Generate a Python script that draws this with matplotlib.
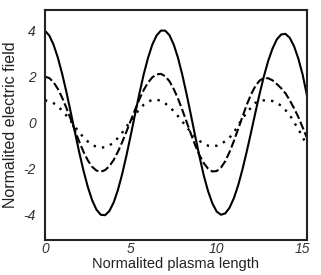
import matplotlib
matplotlib.use("Agg")
import matplotlib.pyplot as plt

# -------------------------------
# Data
# -------------------------------
x = [0.0, 0.25, 0.5, 0.75, 1.0, 1.25, 1.5, 1.75, 2.0, 2.25, 2.5, 2.75, 3.0, 3.25,
     3.5, 3.75, 4.0, 4.25, 4.5, 4.75, 5.0, 5.25, 5.5, 5.75, 6.0, 6.25, 6.5, 6.75,
     7.0, 7.25, 7.5, 7.75, 8.0, 8.25, 8.5, 8.75, 9.0, 9.25, 9.5, 9.75, 10.0, 10.25,
     10.5, 10.75, 11.0, 11.25, 11.5, 11.75, 12.0, 12.25, 12.5, 12.75, 13.0, 13.25,
     13.5, 13.75, 14.0, 14.25, 14.5, 14.75, 15.0, 15.25]

solid = [4.00, 3.79, 3.39, 2.83, 2.13, 1.33, 0.46, -0.43, -1.30, -2.10, -2.80, -3.37, -3.78, -4.00,
         -4.02, -3.84, -3.47, -2.92, -2.22, -1.41, -0.53, 0.38, 1.27, 2.10, 2.81, 3.39, 3.79, 4.00,
         4.00, 3.80, 3.39, 2.81, 2.07, 1.23, 0.33, -0.59, -1.48, -2.30, -2.98, -3.51, -3.86, -4.00,
         -3.94, -3.69, -3.28, -2.72, -2.03, -1.25, -0.42, 0.43, 1.26, 2.02, 2.69, 3.22,
         3.62, 3.83, 3.86, 3.69, 3.33, 2.79, 2.10, 1.20]

dashed = [2.00, 1.94, 1.76, 1.47, 1.09, 0.64, 0.16, -0.35, -0.83, -1.27, -1.64, -1.92, -2.08, -2.13,
          -2.06, -1.89, -1.62, -1.26, -0.84, -0.38, 0.10, 0.57, 1.02, 1.42, 1.74, 1.97, 2.10, 2.12,
          2.02, 1.80, 1.46, 1.04, 0.55, 0.03, -0.49, -0.98, -1.42, -1.76, -2.00, -2.12, -2.10, -1.95,
          -1.67, -1.27, -0.80, -0.27, 0.26, 0.78, 1.23, 1.59, 1.83, 1.94, 1.93, 1.84,
          1.68, 1.50, 1.28, 0.98, 0.63, 0.25, -0.20, -0.65]

dotted = [0.97, 0.94, 0.85, 0.71, 0.53, 0.31, 0.07, -0.18, -0.42, -0.64, -0.82, -0.96, -1.05, -1.08,
          -1.07, -0.99, -0.86, -0.66, -0.43, -0.17, 0.09, 0.35, 0.58, 0.78, 0.91, 0.99, 1.00, 0.95,
          0.84, 0.69, 0.50, 0.28, 0.05, -0.19, -0.42, -0.62, -0.79, -0.92, -1.00, -1.02, -1.00, -0.93,
          -0.80, -0.65, -0.41, -0.12, 0.18, 0.43, 0.66, 0.86, 0.95, 0.97, 0.97, 0.94,
          0.86, 0.74, 0.55, 0.34, 0.02, -0.27, -0.62, -1.00]

xticks = [0, 5, 10, 15]
yticks = [-4, -2, 0, 2, 4]

# -------------------------------
# Figure
# -------------------------------
plt.rcParams['font.family'] = ['Liberation Sans', 'DejaVu Sans']

fig = plt.figure(figsize=(3.21, 2.75), dpi=100)
ax = fig.add_axes([0.140, 0.127, 0.816, 0.837])

ax.plot(x, solid, color='black', lw=1.5)
ax.plot(x, dashed, color='black', lw=1.5, linestyle=(0, (4.0, 1.5)))
ax.plot(x, dotted, color='black', lw=1.7, linestyle=(0, (1, 2.6)))

ax.set_xlim(0, 15.25)
ax.set_ylim(-5.1, 4.9)
ax.set_xticks(xticks)
ax.set_yticks(yticks)
ax.set_xticklabels([str(t) for t in xticks], fontstyle='italic', fontsize=10, color='#333333')
ax.set_yticklabels([str(t) for t in yticks], fontstyle='italic', fontsize=10, color='#333333')
ax.tick_params(axis='both', length=0)
ax.tick_params(axis='x', pad=1.5)
ax.tick_params(axis='y', pad=6.5)

for sp in ax.spines.values():
    sp.set_linewidth(1.5)
    sp.set_color('#222222')

ax.set_xlabel('Normalited plasma length', fontsize=10.5, color='#222222', labelpad=0.5)
ax.set_ylabel('Normalited electric field', fontsize=11.5, color='#222222', labelpad=4)

fig.savefig('out.png', dpi=100)
